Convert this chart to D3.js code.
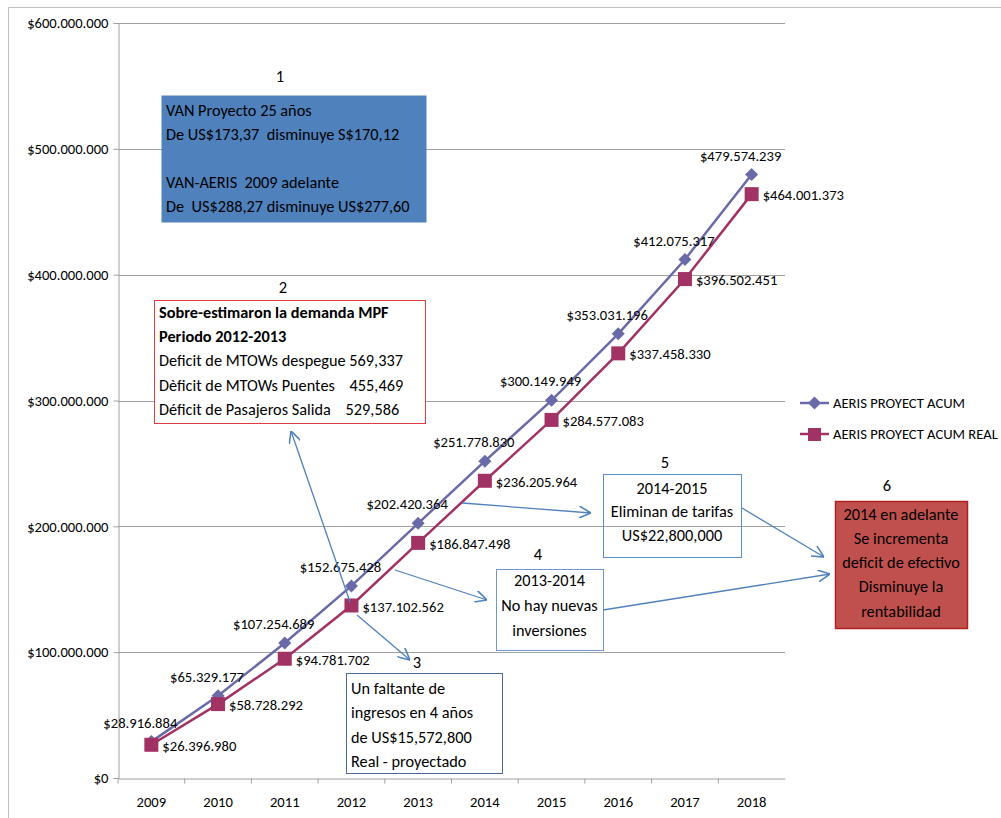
<!DOCTYPE html>
<html>
<head>
<meta charset="utf-8">
<script src="https://cdn.jsdelivr.net/npm/d3@7"></script>
<style>
  body { margin: 0; background: #fff; }
  svg { font-family: Carlito, Calibri, Lato, sans-serif; }
  text { white-space: pre; }
</style>
</head>
<body>
<svg width="1001" height="818"></svg>
<script>
// data
var years = ["2009", "2010", "2011", "2012", "2013", "2014", "2015", "2016", "2017", "2018"];
var proyect = [28916884, 65329177, 107254689, 152675428, 202420364, 251778830, 300149949, 353031196, 412075317, 479574239];
var proyectReal = [26396980, 58728292, 94781702, 137102562, 186847498, 236205964, 284577083, 337458330, 396502451, 464001373];
var seriesNames = ["AERIS PROYECT ACUM", "AERIS PROYECT ACUM REAL"];
var yTicks = [0, 100000000, 200000000, 300000000, 400000000, 500000000, 600000000];

var note1 = ["VAN Proyecto 25 años", "De US$173,37  disminuye S$170,12", "", "VAN-AERIS  2009 adelante", "De  US$288,27 disminuye US$277,60"];
var note2 = ["Sobre-estimaron la demanda MPF", "Periodo 2012-2013", "Deficit de MTOWs despegue 569,337", "Dèficit de MTOWs Puentes    455,469", "Déficit de Pasajeros Salida    529,586"];
var note3 = ["Un faltante de", "ingresos en 4 años", "de US$15,572,800", "Real - proyectado"];
var note4 = ["2013-2014", "No hay nuevas", "inversiones"];
var note5 = ["2014-2015", "Eliminan de tarifas", "US$22,800,000"];
var note6 = ["2014 en adelante", "Se incrementa", "deficit de efectivo", "Disminuye la", "rentabilidad"];

var svg = d3.select("svg");
var colorP = "#6a6aa8", colorR = "#a03264";
var labelSize = "14.6px", noteSize = 16.3;

var locale = d3.formatLocale({decimal: ",", thousands: ".", grouping: [3], currency: ["$", ""]});
var fmt = locale.format("$,.0f");

var x = d3.scaleBand().domain(years).range([118, 785]);
var y = d3.scaleLinear().domain([0, 600000000]).range([778, 23]);
var cx = function (d, i) { return x(years[i]) + x.bandwidth() / 2; };

// frame
svg.append("path").attr("d", "M8.5,818 V7.5 H1001").attr("fill", "none").attr("stroke", "#bfbfbf");

// gridlines
svg.append("g").selectAll("line").data(yTicks.slice(1)).enter().append("line")
    .attr("x1", 118).attr("x2", 785)
    .attr("y1", function (d) { return Math.round(y(d)) + 0.5; })
    .attr("y2", function (d) { return Math.round(y(d)) + 0.5; })
    .attr("stroke", "#a0a0a0");

var yAxis = svg.append("g").attr("transform", "translate(118.5,0)")
    .call(d3.axisLeft(y).tickValues(yTicks).tickFormat(fmt).tickSize(5).tickPadding(5));
var xAxis = svg.append("g").attr("transform", "translate(0,778.5)")
    .call(d3.axisBottom(x).tickSize(0).tickPadding(18));
xAxis.selectAll(".tick")
    .append("line").attr("x1", -x.bandwidth() / 2).attr("x2", -x.bandwidth() / 2).attr("y2", 5);
xAxis.append("line").attr("x1", 785).attr("x2", 785).attr("y2", 5);
svg.selectAll(".domain, .tick line").attr("stroke", "#a0a0a0");
svg.selectAll(".tick text").attr("fill", "#000")
    .style("font-family", "Carlito, Calibri, Lato, sans-serif").style("font-size", labelSize);

// annotations behind the lines
function box(lines, bx, by, w, h, opt) {
    var g = svg.append("g");
    g.append("rect").attr("x", bx + 0.5).attr("y", by + 0.5).attr("width", w).attr("height", h)
        .attr("fill", opt.fill || "none").attr("stroke", opt.stroke || "none").attr("stroke-width", opt.sw || 1);
    g.selectAll("text").data(lines).enter().append("text")
        .attr("x", opt.center ? bx + w / 2 : bx + 5)
        .attr("y", function (d, i) { return by + opt.top + i * opt.lh; })
        .attr("dy", "0.35em")
        .attr("text-anchor", opt.center ? "middle" : "start")
        .attr("font-weight", function (d, i) { return opt.bold && i < opt.bold ? "bold" : null; })
        .style("font-size", noteSize + "px")
        .text(function (d) { return d; });
    if (opt.num) {
        g.append("text").attr("x", opt.num[0]).attr("y", opt.num[1]).attr("dy", "0.35em")
            .attr("text-anchor", "middle").style("font-size", "16.5px").text(opt.num[2]);
    }
}

box(note1, 161, 95, 265, 127, {fill: "#4f81bd", top: 15, lh: 24, num: [280, 76, "1"]});
box(note2, 154, 300, 271, 123, {fill: "#fff", stroke: "#e03c3c", top: 12, lh: 24.3, bold: 2, num: [283, 287, "2"]});
box(note3, 346, 673, 156, 100, {fill: "#fff", stroke: "#4a6a9a", top: 15, lh: 24.5});
box(note4, 496, 569, 107, 81, {fill: "#fff", stroke: "#6f97cc", center: true, top: 11, lh: 25, num: [538, 554, "4"]});
box(note5, 603, 474, 138, 83, {stroke: "#5d8ccb", center: true, top: 14, lh: 23.5, num: [665, 462, "5"]});
box(note6, 835, 501, 132, 127, {fill: "#c0504d", stroke: "#b02020", sw: 1.5, center: true, top: 13, lh: 24.2, num: [887, 485, "6"]});
svg.append("text").attr("x", 417).attr("y", 662).attr("dy", "0.35em").attr("text-anchor", "middle")
    .style("font-size", "16.5px").text("3");

// series lines
var line = d3.line().x(cx).y(function (d) { return y(d); });
svg.append("path").datum(proyect).attr("d", line).attr("fill", "none").attr("stroke", colorP).attr("stroke-width", 2.5);
svg.append("path").datum(proyectReal).attr("d", line).attr("fill", "none").attr("stroke", colorR).attr("stroke-width", 2.5);

var diamond = "M0,-6.5 L6.5,0 L0,6.5 L-6.5,0 Z";
svg.append("g").selectAll("path").data(proyect).enter().append("path")
    .attr("d", diamond)
    .attr("transform", function (d, i) { return "translate(" + cx(d, i) + "," + y(d) + ")"; })
    .attr("fill", colorP);
svg.append("g").selectAll("rect").data(proyectReal).enter().append("rect")
    .attr("x", function (d, i) { return cx(d, i) - 7; })
    .attr("y", function (d) { return y(d) - 7; })
    .attr("width", 14).attr("height", 14)
    .attr("fill", colorR);

// data labels
svg.append("g").selectAll("text").data(proyect).enter().append("text")
    .attr("x", function (d, i) { return cx(d, i) - 11; })
    .attr("y", function (d) { return y(d) - 19; })
    .attr("dy", "0.35em").attr("text-anchor", "middle")
    .style("font-size", labelSize)
    .text(fmt);
svg.append("g").selectAll("text").data(proyectReal).enter().append("text")
    .attr("x", function (d, i) { return cx(d, i) + 11; })
    .attr("y", function (d) { return y(d) + 1; })
    .attr("dy", "0.35em")
    .style("font-size", labelSize)
    .text(fmt);

// arrows
var defs = svg.append("defs");
defs.append("marker").attr("id", "arr").attr("viewBox", "0 0 10 10").attr("refX", 10).attr("refY", 5)
    .attr("markerWidth", 12).attr("markerHeight", 12).attr("markerUnits", "userSpaceOnUse").attr("orient", "auto")
    .append("path").attr("d", "M0,0 L10,5 L0,10").attr("fill", "none").attr("stroke", "#4f81bd").attr("stroke-width", 1.3);
var arrows = [[350, 602, 291, 431], [357, 615, 410, 660], [395, 570, 487, 600], [462, 503, 591, 513], [742, 508, 824, 557], [603, 610, 830, 574]];
svg.append("g").selectAll("line").data(arrows).enter().append("line")
    .attr("x1", function (d) { return d[0]; }).attr("y1", function (d) { return d[1]; })
    .attr("x2", function (d) { return d[2]; }).attr("y2", function (d) { return d[3]; })
    .attr("stroke", "#4f81bd").attr("stroke-width", 1.3).attr("marker-end", "url(#arr)");

// legend
var legend = svg.append("g").attr("transform", "translate(800,403)");
[colorP, colorR].forEach(function (c, i) {
    var g = legend.append("g").attr("transform", "translate(0," + i * 31 + ")");
    g.append("line").attr("x1", 0).attr("x2", 29).attr("stroke", c).attr("stroke-width", 2.5);
    if (i === 0) g.append("path").attr("d", diamond).attr("transform", "translate(14.5,0)").attr("fill", c);
    else g.append("rect").attr("x", 8).attr("y", -6).attr("width", 13).attr("height", 13).attr("fill", c);
    g.append("text").attr("x", 33).attr("dy", "0.35em").style("font-size", labelSize).text(seriesNames[i]);
});
</script>
</body>
</html>
